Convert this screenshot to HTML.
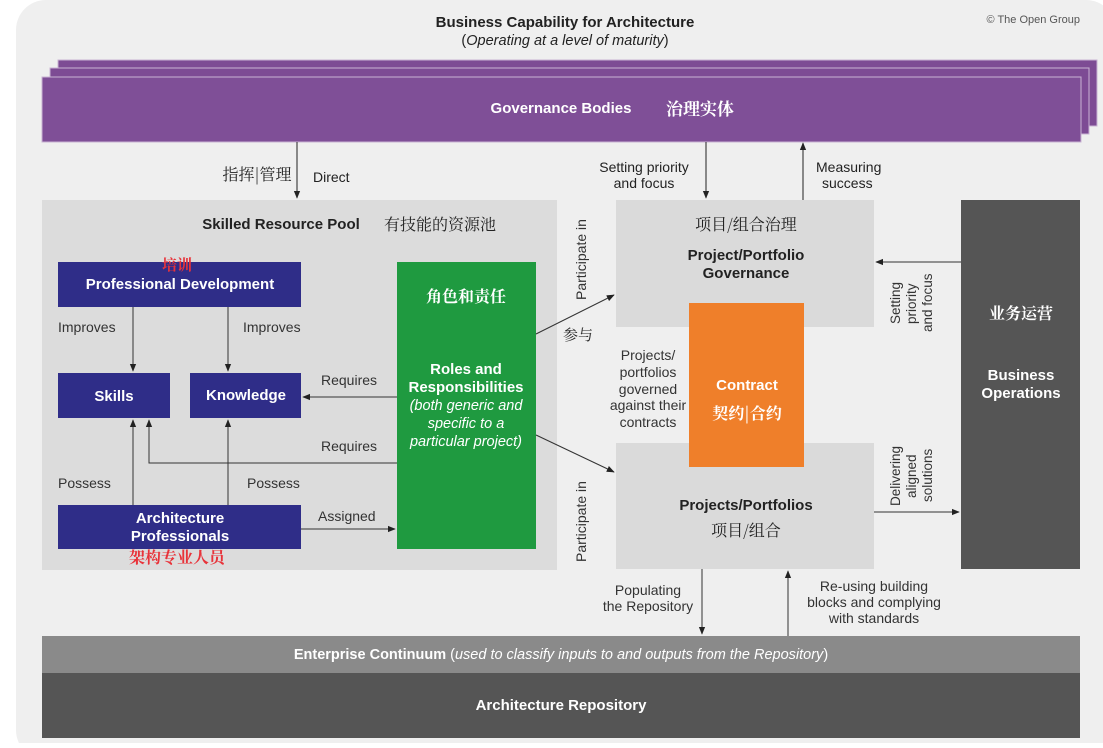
<!DOCTYPE html>
<html><head><meta charset="utf-8"><style>
body{margin:0;background:#fff;width:1103px;height:743px;overflow:hidden}
svg text{font-family:"Liberation Sans","Noto Sans CJK SC",sans-serif}
.cn{font-family:"Noto Serif CJK SC","Noto Sans CJK SC",serif}
</style></head><body>
<svg width="1103" height="743" viewBox="0 0 1103 743" xmlns="http://www.w3.org/2000/svg">
<defs><marker id="a" viewBox="0 0 10 10" refX="9" refY="5" markerWidth="8" markerHeight="8" orient="auto-start-reverse"><path d="M0,1 L10,5 L0,9 z" fill="#222"/></marker></defs>
<rect x="16" y="0" width="1100" height="760" rx="30" fill="#efefef"/>
<text x="565" y="27" text-anchor="middle" font-size="15" font-weight="bold" fill="#222">Business Capability for Architecture</text>
<text x="565" y="45" text-anchor="middle" font-size="14.5" fill="#222">(<tspan font-style="italic">Operating at a level of maturity</tspan>)</text>
<text x="1080" y="23" text-anchor="end" font-size="11" fill="#555">© The Open Group</text>
<rect x="58" y="60" width="1039" height="66" fill="#7d4b94" stroke="#c9b3d3" stroke-width="1"/>
<rect x="50" y="68" width="1039" height="66" fill="#7d4b94" stroke="#c9b3d3" stroke-width="1"/>
<rect x="42" y="77" width="1039" height="65" fill="#7f4f97" stroke="#c9b3d3" stroke-width="1"/>
<text x="561" y="113" text-anchor="middle" font-size="15" font-weight="bold" fill="#fff">Governance Bodies</text>
<text x="700" y="115" text-anchor="middle" font-size="17" font-weight="bold" fill="#fff" class="cn">治理实体</text>
<line x1="297" y1="142" x2="297" y2="198" stroke="#222" marker-end="url(#a)"/>
<text x="257" y="180" text-anchor="middle" font-size="16" fill="#222" class="cn">指挥|管理</text>
<text x="313" y="182" font-size="14" fill="#222">Direct</text>
<line x1="706" y1="142" x2="706" y2="198" stroke="#222" marker-end="url(#a)"/>
<text x="644" y="172" text-anchor="middle" font-size="14" fill="#222">Setting priority</text>
<text x="644" y="188" text-anchor="middle" font-size="14" fill="#222">and focus</text>
<line x1="803" y1="200" x2="803" y2="143" stroke="#222" marker-end="url(#a)"/>
<text x="816" y="172" font-size="14" fill="#222">Measuring</text>
<text x="822" y="188" font-size="14" fill="#222">success</text>
<rect x="42" y="200" width="515" height="370" fill="#dcdcdc"/>
<text x="281" y="229" text-anchor="middle" font-size="15" font-weight="bold" fill="#222">Skilled Resource Pool</text>
<text x="440" y="230" text-anchor="middle" font-size="16" fill="#222" class="cn">有技能的资源池</text>
<rect x="58" y="262" width="243" height="45" fill="#2f2d88"/>
<text x="180" y="289" text-anchor="middle" font-size="15" font-weight="bold" fill="#fff">Professional Development</text>
<text x="177" y="270" text-anchor="middle" font-size="15" font-weight="bold" fill="#e8333a" class="cn">培训</text>
<rect x="58" y="373" width="112" height="45" fill="#2f2d88"/>
<text x="114" y="401" text-anchor="middle" font-size="15" font-weight="bold" fill="#fff">Skills</text>
<rect x="190" y="373" width="111" height="45" fill="#2f2d88"/>
<text x="246" y="400" text-anchor="middle" font-size="15" font-weight="bold" fill="#fff">Knowledge</text>
<rect x="58" y="505" width="243" height="44" fill="#2f2d88"/>
<text x="180" y="523" text-anchor="middle" font-size="15" font-weight="bold" fill="#fff">Architecture</text>
<text x="180" y="541" text-anchor="middle" font-size="15" font-weight="bold" fill="#fff">Professionals</text>
<text x="177" y="563" text-anchor="middle" font-size="16" font-weight="bold" fill="#e8333a" class="cn">架构专业人员</text>
<line x1="133" y1="307" x2="133" y2="371" stroke="#333" marker-end="url(#a)"/>
<line x1="228" y1="307" x2="228" y2="371" stroke="#333" marker-end="url(#a)"/>
<text x="58" y="332" font-size="14" fill="#333">Improves</text>
<text x="243" y="332" font-size="14" fill="#333">Improves</text>
<line x1="133" y1="505" x2="133" y2="420" stroke="#333" marker-end="url(#a)"/>
<line x1="228" y1="505" x2="228" y2="420" stroke="#333" marker-end="url(#a)"/>
<text x="58" y="488" font-size="14" fill="#333">Possess</text>
<text x="247" y="488" font-size="14" fill="#333">Possess</text>
<line x1="397" y1="397" x2="303" y2="397" stroke="#333" marker-end="url(#a)"/>
<text x="321" y="385" font-size="14" fill="#333">Requires</text>
<polyline points="397,463 149,463 149,420" fill="none" stroke="#333" marker-end="url(#a)"/>
<text x="321" y="451" font-size="14" fill="#333">Requires</text>
<line x1="301" y1="529" x2="395" y2="529" stroke="#333" marker-end="url(#a)"/>
<text x="318" y="521" font-size="14" fill="#333">Assigned</text>
<rect x="397" y="262" width="139" height="287" fill="#1f9a40"/>
<text x="466" y="302" text-anchor="middle" font-size="16" font-weight="bold" fill="#fff" class="cn">角色和责任</text>
<text x="466" y="374" text-anchor="middle" font-size="15" font-weight="bold" fill="#fff">Roles and</text>
<text x="466" y="392" text-anchor="middle" font-size="15" font-weight="bold" fill="#fff">Responsibilities</text>
<text x="466" y="410" text-anchor="middle" font-size="14.5" font-style="italic" fill="#fff">(both generic and</text>
<text x="466" y="428" text-anchor="middle" font-size="14.5" font-style="italic" fill="#fff">specific to a</text>
<text x="466" y="446" text-anchor="middle" font-size="14.5" font-style="italic" fill="#fff">particular project)</text>
<line x1="536" y1="334" x2="614" y2="295" stroke="#333" marker-end="url(#a)"/>
<line x1="536" y1="435" x2="614" y2="472" stroke="#333" marker-end="url(#a)"/>
<text x="578" y="340" text-anchor="middle" font-size="15" fill="#222" class="cn">参与</text>
<text transform="translate(586,300) rotate(-90)" font-size="14" fill="#333">Participate in</text>
<text transform="translate(586,562) rotate(-90)" font-size="14" fill="#333">Participate in</text>
<rect x="616" y="200" width="258" height="127" fill="#dadada"/>
<rect x="616" y="443" width="258" height="126" fill="#dadada"/>
<text x="746" y="230" text-anchor="middle" font-size="16" fill="#222" class="cn">项目/组合治理</text>
<text x="746" y="260" text-anchor="middle" font-size="15" font-weight="bold" fill="#222">Project/Portfolio</text>
<text x="746" y="278" text-anchor="middle" font-size="15" font-weight="bold" fill="#222">Governance</text>
<text x="746" y="510" text-anchor="middle" font-size="15" font-weight="bold" fill="#222">Projects/Portfolios</text>
<text x="746" y="536" text-anchor="middle" font-size="16" fill="#222" class="cn">项目/组合</text>
<rect x="689" y="303" width="115" height="164" fill="#ef7f2a"/>
<text x="747" y="390" text-anchor="middle" font-size="15" font-weight="bold" fill="#fff">Contract</text>
<text x="747" y="419" text-anchor="middle" font-size="16" font-weight="bold" fill="#fff" class="cn">契约|合约</text>
<g font-size="14" fill="#333" text-anchor="middle"><text x="648" y="360">Projects/</text><text x="648" y="377">portfolios</text><text x="648" y="394">governed</text><text x="648" y="410">against their</text><text x="648" y="427">contracts</text></g>
<rect x="961" y="200" width="119" height="369" fill="#555"/>
<text x="1021" y="319" text-anchor="middle" font-size="16" font-weight="bold" fill="#fff" class="cn">业务运营</text>
<text x="1021" y="380" text-anchor="middle" font-size="15" font-weight="bold" fill="#fff">Business</text>
<text x="1021" y="398" text-anchor="middle" font-size="15" font-weight="bold" fill="#fff">Operations</text>
<line x1="961" y1="262" x2="876" y2="262" stroke="#333" marker-end="url(#a)"/>
<line x1="874" y1="512" x2="959" y2="512" stroke="#333" marker-end="url(#a)"/>
<g font-size="13.5" fill="#333"><text transform="translate(900,324) rotate(-90)">Setting</text><text transform="translate(916,324) rotate(-90)">priority</text><text transform="translate(932,332) rotate(-90)">and focus</text>
<text transform="translate(900,506) rotate(-90)">Delivering</text><text transform="translate(916,498) rotate(-90)">aligned</text><text transform="translate(932,502) rotate(-90)">solutions</text></g>
<line x1="702" y1="569" x2="702" y2="634" stroke="#333" marker-end="url(#a)"/>
<line x1="788" y1="636" x2="788" y2="571" stroke="#333" marker-end="url(#a)"/>
<text x="648" y="595" text-anchor="middle" font-size="14" fill="#333">Populating</text>
<text x="648" y="611" text-anchor="middle" font-size="14" fill="#333">the Repository</text>
<g font-size="14" fill="#333" text-anchor="middle"><text x="874" y="591">Re-using building</text><text x="874" y="607">blocks and complying</text><text x="874" y="623">with standards</text></g>
<rect x="42" y="636" width="1038" height="37" fill="#8a8a8a"/>
<text x="561" y="659" text-anchor="middle" font-size="14.5" fill="#fff"><tspan font-weight="bold">Enterprise Continuum</tspan> (<tspan font-style="italic">used to classify inputs to and outputs from the Repository</tspan>)</text>
<rect x="42" y="673" width="1038" height="65" fill="#555"/>
<text x="561" y="710" text-anchor="middle" font-size="15" font-weight="bold" fill="#fff">Architecture Repository</text>
</svg>
</body></html>
